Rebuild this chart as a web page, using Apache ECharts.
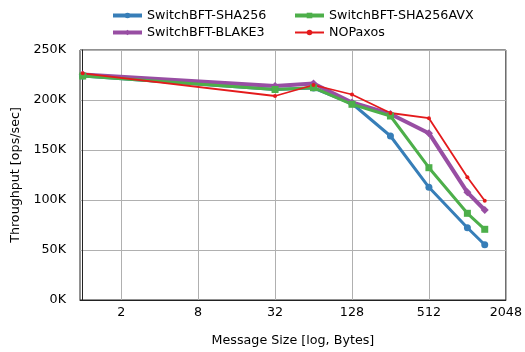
<!DOCTYPE html>
<html>
<head>
<meta charset="utf-8">
<script src="https://cdn.jsdelivr.net/npm/echarts@6/dist/echarts.min.js"></script>
<style>
  html, body { margin: 0; padding: 0; background: #fff; }
  #chart { width: 525px; height: 352px; }
</style>
</head>
<body>
<div id="chart"></div>
<script>
// Message sizes in bytes (x positions on a log2 axis)
const sizes = [1, 32, 64, 128, 256, 512, 1024, 1400];

// Throughput in ops/sec
const sha256    = [224000, 210500, 212000, 196500, 164000, 112700, 72300, 55300];
const blake3    = [225500, 214000, 216500, 197500, 186000, 166800, 107700, 90000];
const sha256avx = [224000, 210500, 212300, 195700, 184000, 132300, 86700, 70700];
const nopaxos   = [226700, 204000, 215000, 205500, 187000, 181800, 122700, 99300];

// Tick labels on the x axis (powers of two)
const xTicks = [2, 8, 32, 128, 512, 2048];

const FONT = 'DejaVu Sans';
const FS = 12.7;

function toPoints(vals) {
  return sizes.map((s, i) => [Math.log2(s), vals[i]]);
}

const seriesDefs = [
  { name: 'SwitchBFT-SHA256', data: sha256, color: '#377eb8', width: 3, symbol: 'circle', size: 7 },
  { name: 'SwitchBFT-BLAKE3', data: blake3, color: '#984ea3', width: 4, symbol: 'diamond', size: 8 },
  { name: 'SwitchBFT-SHA256AVX', data: sha256avx, color: '#4daf4a', width: 3, symbol: 'rect', size: 7 },
  { name: 'NOPaxos', data: nopaxos, color: '#e41a1c', width: 1.8, symbol: 'circle', size: 4 }
];

function legendItem(name) {
  const d = seriesDefs.find(s => s.name === name);
  return {
    name: name,
    lineStyle: { color: d.color, width: d.name === 'NOPaxos' ? 2 : 4 },
    itemStyle: { color: d.color }
  };
}

const legendBase = {
  orient: 'vertical',
  top: 4,
  itemWidth: 29,
  itemHeight: 7,
  itemGap: 4,
  textStyle: { fontFamily: FONT, fontSize: FS, color: '#000' },
  selectedMode: false
};

const chart = echarts.init(document.getElementById('chart'), null, { renderer: 'canvas' });
chart.setOption({
  animation: false,
  backgroundColor: '#fff',
  legend: [
    Object.assign({}, legendBase, { left: 106, data: ['SwitchBFT-SHA256', 'SwitchBFT-BLAKE3'].map(legendItem) }),
    Object.assign({}, legendBase, { left: 288, data: ['SwitchBFT-SHA256AVX', 'NOPaxos'].map(legendItem) })
  ],
  grid: {
    left: 80, right: 17, top: 50, bottom: 52,
    show: true, borderColor: '#222', borderWidth: 1, backgroundColor: 'transparent'
  },
  xAxis: {
    type: 'value',
    min: -0.07,
    max: 11,
    name: 'Message Size [log, Bytes]',
    nameLocation: 'middle',
    nameGap: 34,
    nameTextStyle: { fontFamily: FONT, fontSize: FS, color: '#000' },
    axisLine: { show: true, lineStyle: { color: '#222' } },
    axisTick: { show: false, customValues: xTicks.map(v => Math.log2(v)) },
    axisLabel: {
      customValues: xTicks.map(v => Math.log2(v)),
      formatter: v => String(Math.round(Math.pow(2, v))),
      fontFamily: FONT, fontSize: FS, color: '#000', margin: 6
    },
    splitLine: { show: true, lineStyle: { color: '#b0b0b0', width: 1 } }
  },
  yAxis: {
    type: 'value',
    min: 0,
    max: 250000,
    interval: 50000,
    name: 'Throughput [ops/sec]',
    nameLocation: 'middle',
    nameGap: 53,
    nameTextStyle: { fontFamily: FONT, fontSize: FS, color: '#000' },
    axisLine: { show: true, lineStyle: { color: '#222' } },
    axisTick: { show: false },
    axisLabel: {
      formatter: v => (v / 1000) + 'K',
      fontFamily: FONT, fontSize: FS, color: '#000', margin: 14
    },
    splitLine: { show: true, lineStyle: { color: '#b0b0b0', width: 1 } }
  },
  series: seriesDefs.map(d => ({
    name: d.name,
    type: 'line',
    data: toPoints(d.data),
    symbol: d.symbol,
    symbolSize: d.size,
    showAllSymbol: true,
    lineStyle: { color: d.color, width: d.width },
    itemStyle: { color: d.color, borderWidth: 0 },
    emphasis: { disabled: true }
  }))
});
</script>
</body>
</html>
